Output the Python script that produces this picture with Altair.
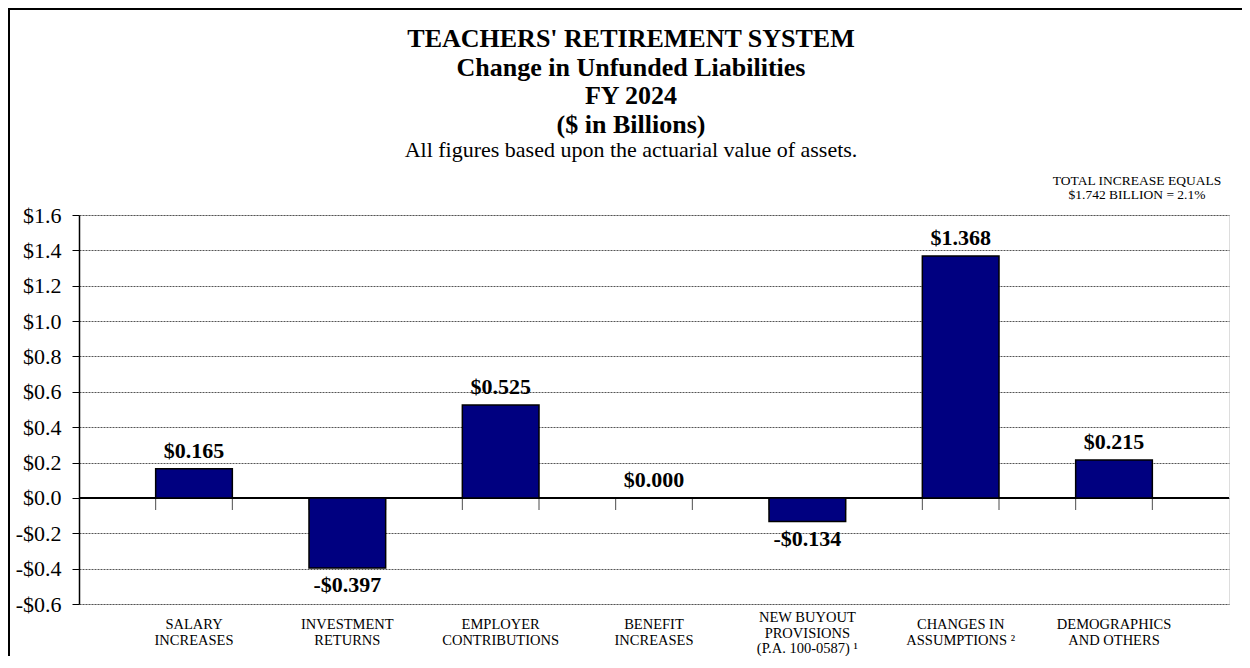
import altair as alt
import pandas as pd

categories = [
    "SALARY\nINCREASES",
    "INVESTMENT\nRETURNS",
    "EMPLOYER\nCONTRIBUTIONS",
    "BENEFIT\nINCREASES",
    "NEW BUYOUT\nPROVISIONS\n(P.A. 100-0587) \u00b9",
    "CHANGES IN\nASSUMPTIONS \u00b2",
    "DEMOGRAPHICS\nAND OTHERS",
]
values = [0.165, -0.397, 0.525, 0.000, -0.134, 1.368, 0.215]
y_ticks = [-0.6, -0.4, -0.2, 0.0, 0.2, 0.4, 0.6, 0.8, 1.0, 1.2, 1.4, 1.6]
title_text = "TEACHERS' RETIREMENT SYSTEM\nChange in Unfunded Liabilities\nFY 2024\n($ in Billions)"
subtitle = "All figures based upon the actuarial value of assets."
note = "TOTAL INCREASE EQUALS\n$1.742 BILLION = 2.1%"

SERIF = "Liberation Serif"
n_slots = 2 * len(categories) + 1

def fmt(v):
    return ("-" if v < 0 else "") + "$" + f"{abs(v):.3f}"

df = pd.DataFrame({
    "cat": categories,
    "nlines": [c.count("\n") + 1 for c in categories],
    "value": values,
    "label": [fmt(v) for v in values],
    "x0": [2 * i + 1 for i in range(len(categories))],
    "x1": [2 * i + 2 for i in range(len(categories))],
    "xc": [2 * i + 1.5 for i in range(len(categories))],
    "ybot": [-0.6] * len(categories),
})
ticks_df = pd.DataFrame({"t": list(range(1, n_slots)), "z": [0] * (n_slots - 1)})
yt_df = pd.DataFrame({"v": y_ticks})

xs = alt.Scale(domain=[0, n_slots], nice=False, zero=False)
ys = alt.Scale(domain=[-0.6, 1.6], nice=False, zero=False)

yaxis = alt.Axis(
    values=y_ticks,
    tickCount=len(y_ticks),
    labelExpr="(datum.value < -0.0001 ? '-' : '') + '$' + format(abs(datum.value), '.1f')",
    labelFont=SERIF, labelFontSize=22, labelColor="black", labelPadding=11,
    labelOverlap=False, labelFlush=False,
    tickSize=7, tickColor="black", domainColor="black", domainWidth=1.5,
    grid=True, gridColor="#555", gridDash=[2, 1], gridWidth=1,
    title=None,
)

def Y(field):
    return alt.Y(field, scale=ys, axis=yaxis)

def X(field):
    return alt.X(field, scale=xs, axis=None)

base = alt.Chart(df)

grid = alt.Chart(yt_df).mark_point(opacity=0).encode(y=Y("v:Q"))

zero = alt.Chart(ticks_df).mark_rule(color="black", strokeWidth=1.2).encode(
    y=Y("z:Q"), x=alt.value(0), x2=alt.value(1150)
)

ticks = alt.Chart(ticks_df).mark_tick(orient="vertical", size=12, thickness=1, color="black", yOffset=6).encode(
    x=X("t:Q"), y=Y("z:Q")
)

bars = base.mark_bar(color="#000080", stroke="black", strokeWidth=1.5).encode(
    x=X("x0:Q"), x2="x1:Q", y=Y("value:Q"), y2=alt.datum(0),
)

pos_labels = base.transform_filter("datum.value >= 0").mark_text(
    font=SERIF, fontSize=22, fontWeight="bold", color="black", baseline="bottom", dy=-6
).encode(x=X("xc:Q"), y=Y("value:Q"), text="label:N")

neg_labels = base.transform_filter("datum.value < 0").mark_text(
    font=SERIF, fontSize=22, fontWeight="bold", color="black", baseline="top", dy=7
).encode(x=X("xc:Q"), y=Y("value:Q"), text="label:N")

def cat_layer(n, dy):
    return base.transform_filter(f"datum.nlines == {n}").mark_text(
        font=SERIF, fontSize=14.5, color="black", baseline="middle", align="center",
        lineBreak="\n", lineHeight=15.5, dy=dy,
    ).encode(x=X("xc:Q"), y=Y("ybot:Q"), text="cat:N")

cat2 = cat_layer(2, 21)
cat3 = cat_layer(3, 14)

note_mark = alt.Chart(pd.DataFrame({"n": [note]})).mark_text(
    font=SERIF, fontSize=13.5, color="black", baseline="bottom", align="center",
    lineBreak="\n", lineHeight=13.5, dy=-27, dx=-92,
).encode(x=alt.datum(n_slots, scale=xs), y=alt.datum(1.6, scale=ys), text="n:N")

title_mark = alt.Chart(pd.DataFrame({"t": [title_text]})).mark_text(
    font=SERIF, fontSize=26, fontWeight="bold", color="black", baseline="alphabetic", align="center",
    lineBreak="\n", lineHeight=28.7,
).encode(x=alt.value(552), y=alt.value(-168), text="t:N")

subtitle_mark = alt.Chart(pd.DataFrame({"s": [subtitle]})).mark_text(
    font=SERIF, fontSize=22, color="black", baseline="alphabetic", align="center",
).encode(x=alt.value(552), y=alt.value(-58), text="s:N")

frame = alt.Chart(ticks_df).mark_rect(fill=None, stroke="black", strokeWidth=1.5, clip=False).encode(
    x=alt.value(-70), x2=alt.value(1180), y=alt.value(-206), y2=alt.value(500)
)

chart = alt.layer(
    grid, zero, ticks, bars, pos_labels, neg_labels, cat2, cat3, note_mark,
    title_mark, subtitle_mark, frame
).properties(
    width=1150,
    height=389,
    autosize=alt.AutoSizeParams(type="none"),
    padding={"left": 71, "top": 207, "right": 13, "bottom": 52},
).configure_view(stroke="#888", strokeWidth=2).configure(background="white")

chart.save("out.html", embed_options={"renderer": "svg", "actions": False})
